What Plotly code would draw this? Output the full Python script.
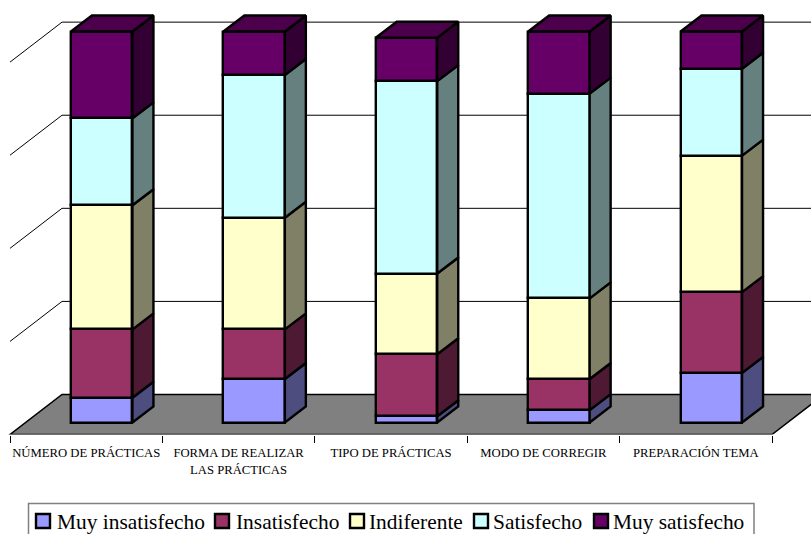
import plotly.graph_objects as go

# Survey answers per item (respondent counts)
categories = ["NÚMERO DE PRÁCTICAS", "FORMA DE REALIZAR", "TIPO DE PRÁCTICAS",
              "MODO DE CORREGIR", "PREPARACIÓN TEMA"]
second_lines = {1: "LAS PRÁCTICAS"}
series_names = ["Muy insatisfecho", "Insatisfecho", "Indiferente", "Satisfecho", "Muy satisfecho"]
muy_insatisfecho = [4, 7, 1, 2, 8]
insatisfecho = [11, 8, 10, 5, 13]
indiferente = [20, 18, 13, 13, 22]
satisfecho = [14, 23, 31, 33, 14]
muy_satisfecho = [14, 7, 7, 10, 6]
series_values = [muy_insatisfecho, insatisfecho, indiferente, satisfecho, muy_satisfecho]

front_colors = ["#9999FF", "#993366", "#FFFFCC", "#CCFFFF", "#660066"]
side_colors = ["#4D4D80", "#4D1933", "#808066", "#668080", "#330033"]
top_color = "#4C004C"
grid_values = [15, 30, 45, 60]

# Oblique projection, expressed in axis units
W, H = 811, 534
FLOOR_PX = 434.5
PX_PER_CAT = 152.4
PX_PER_UNIT = 6.206
WALL_DX = 52 / PX_PER_CAT
WALL_DY = 40 / PX_PER_UNIT
BAR_DX = 21 / PX_PER_CAT
BAR_DY = 16 / PX_PER_UNIT
BAR_WIDTH = 61.5 / PX_PER_CAT
BAR_SHIFT = 15.5 / PX_PER_CAT
BAR_BASE = 12 / PX_PER_UNIT
EDGE = 2.4
SERIF = "Liberation Serif"

x_left = -0.5
x_right = len(categories) - 0.5

fig = go.Figure()

# Front faces
cumulative = [BAR_BASE] * len(categories)
bar_x = [i + BAR_SHIFT for i in range(len(categories))]
stack_edges = []
for name, values, color in zip(series_names, series_values, front_colors):
    fig.add_bar(x=bar_x, y=values, base=list(cumulative), width=BAR_WIDTH, name=name,
                marker=dict(color=color, line=dict(color="black", width=EDGE)),
                showlegend=False)
    stack_edges.append(list(cumulative))
    cumulative = [b + v for b, v in zip(cumulative, values)]


def add_face(xs, ys, color):
    fig.add_scatter(x=xs, y=ys, mode="lines", fill="toself", fillcolor=color,
                    line=dict(color="black", width=EDGE), showlegend=False,
                    hoverinfo="skip")


# Side faces and the cap of each column
for s, color in enumerate(side_colors):
    for i, cx in enumerate(bar_x):
        right = cx + BAR_WIDTH / 2
        low = stack_edges[s][i]
        high = low + series_values[s][i]
        add_face([right, right + BAR_DX, right + BAR_DX, right, right],
                 [low, low + BAR_DY, high + BAR_DY, high, low], color)
for i, cx in enumerate(bar_x):
    left, right = cx - BAR_WIDTH / 2, cx + BAR_WIDTH / 2
    top = cumulative[i]
    add_face([left, right, right + BAR_DX, left + BAR_DX, left],
             [top, top, top + BAR_DY, top + BAR_DY, top], top_color)

# Floor and wall gridlines sit behind the columns
shapes = [dict(type="path", layer="below", xref="x", yref="y",
               path=f"M{x_left},0 L{x_right},0 L{x_right + WALL_DX},{WALL_DY} "
                    f"L{x_left + WALL_DX},{WALL_DY} Z",
               fillcolor="#808080", line=dict(color="black", width=1.5))]
for g in grid_values:
    shapes.append(dict(type="line", layer="below", xref="x", yref="y",
                       x0=x_left, y0=g, x1=x_left + WALL_DX, y1=g + WALL_DY,
                       line=dict(color="black", width=1)))
    shapes.append(dict(type="line", layer="below", xref="x", yref="y",
                       x0=x_left + WALL_DX, y0=g + WALL_DY,
                       x1=x_right + 1, y1=g + WALL_DY,
                       line=dict(color="black", width=1)))

# Legend frame and swatches, placed in pixels of the page
def px(v):
    return v / W


def py(v):
    return 1 - v / H


shapes.append(dict(type="rect", xref="paper", yref="paper", x0=px(28.5), x1=px(754),
                   y0=py(540), y1=py(503.5), fillcolor="white",
                   line=dict(color="#808080", width=1.5)))
swatch_left = [36, 215, 350, 474, 594]
text_left = [56, 235, 368, 492, 612]
annotations = []
for sx, tx, name, color in zip(swatch_left, text_left, series_names, front_colors):
    shapes.append(dict(type="rect", xref="paper", yref="paper", x0=px(sx), x1=px(sx + 14),
                       y0=py(528), y1=py(514), fillcolor=color,
                       line=dict(color="black", width=EDGE)))
    annotations.append(dict(xref="paper", yref="paper", x=px(tx), y=py(521.5), text=name,
                            showarrow=False, xanchor="left", yanchor="middle",
                            xshift=-1, font=dict(family=SERIF, size=21.4, color="black")))

# Continuation line for the two-line category label
for i, line in second_lines.items():
    annotations.append(dict(xref="x", yref="paper", x=i, y=py(469.5), text=line,
                            showarrow=False, xanchor="center", yanchor="middle",
                            font=dict(family=SERIF, size=12.7, color="black")))

fig.update_layout(
    width=W, height=H, margin=dict(l=0, r=0, t=0, b=0),
    paper_bgcolor="white", plot_bgcolor="rgba(0,0,0,0)",
    barmode="overlay", showlegend=False, bargap=0,
    shapes=shapes, annotations=annotations,
    xaxis=dict(
        range=[x_left - 10 / PX_PER_CAT, x_left + (W - 10) / PX_PER_CAT],
        domain=[0, 1], showgrid=False, zeroline=False, showline=False,
        tickmode="array", tickvals=list(range(len(categories))), ticktext=categories,
        ticks="", tickangle=0, ticklabelstandoff=9,
        tickfont=dict(family=SERIF, size=12.7, color="black"),
        minor=dict(tickmode="array",
                   tickvals=[i - 0.5 for i in range(len(categories) + 1)],
                   ticks="outside", ticklen=7, tickwidth=1, tickcolor="black", showgrid=False),
    ),
    yaxis=dict(visible=False, range=[0, FLOOR_PX / PX_PER_UNIT],
               domain=[(H - FLOOR_PX) / H, 1]),
)

fig.write_html("out.html")
